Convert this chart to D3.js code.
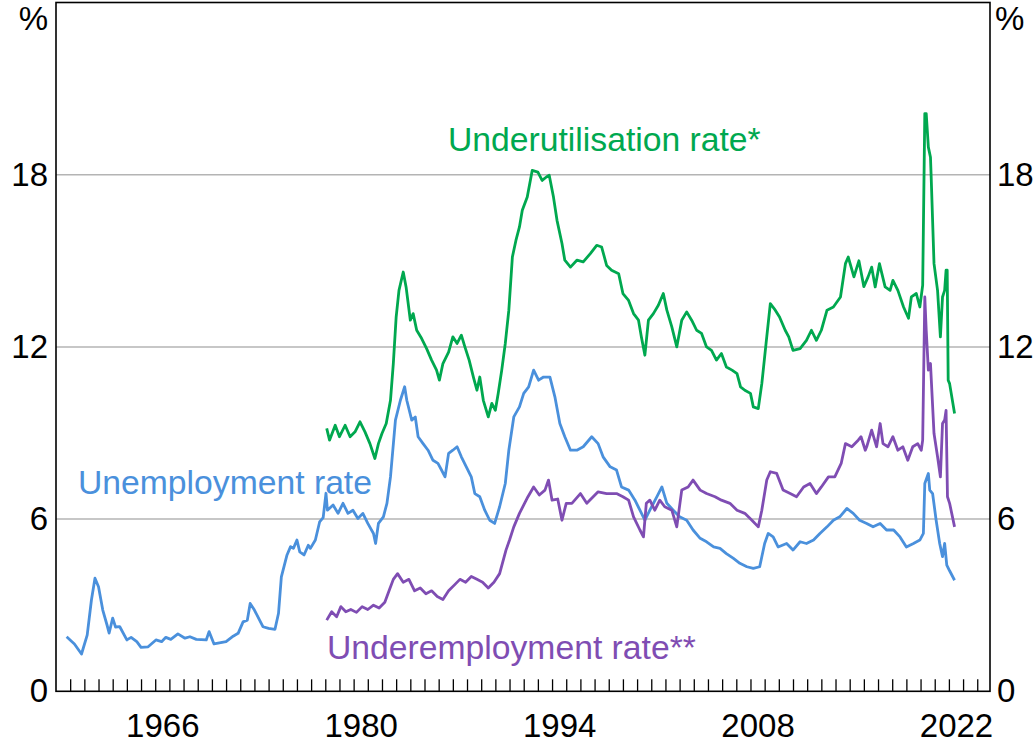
<!DOCTYPE html>
<html lang="en">
<head>
<meta charset="utf-8">
<title>Labour market spare capacity</title>
<style>
body { margin: 0; background: #fff; }
svg { display: block; }
.axis text, .lbl { font-family: "Liberation Sans", Arial, sans-serif; font-size: 33px; fill: #000; }
.lbl.series-lbl { font-size: 33.7px; }
.axis path, .axis line { stroke: none; }
.tick-year line { stroke: #000; stroke-width: 1.3; }
.grid line { stroke: #b4b4b4; stroke-width: 1.5; }
.series { fill: none; stroke-width: 2.8; stroke-linejoin: round; }
</style>
</head>
<body>
<svg width="1036" height="743"></svg>

<script src="https://cdn.jsdelivr.net/npm/d3@7"></script>
<script>

// unemployment rate, %, (decimal years)
const unempYears = [
  1959.75, 1960.3, 1960.8, 1961.2, 1961.5, 1961.75, 1962.0, 1962.3, 1962.6, 1962.75,
  1963.0, 1963.2, 1963.5, 1964.0, 1964.3, 1964.7, 1965.0, 1965.5, 1966.05, 1966.45,
  1966.75, 1967.1, 1967.6, 1968.1, 1968.45, 1968.9, 1969.6, 1969.8, 1970.15, 1971.0,
  1971.5, 1971.85, 1972.2, 1972.5, 1972.7, 1973.0, 1973.6, 1974.0, 1974.45, 1974.7,
  1974.9, 1975.3, 1975.55, 1975.75, 1976.0, 1976.2, 1976.5, 1976.8, 1976.95, 1977.3,
  1977.6, 1977.85, 1978.05, 1978.15, 1978.55, 1978.9, 1979.25, 1979.6, 1979.95, 1980.3,
  1980.65, 1981.0, 1981.4, 1981.55, 1981.75, 1982.1, 1982.35, 1982.6, 1982.95, 1983.3,
  1983.6, 1983.75, 1984.1, 1984.35, 1984.55, 1984.9, 1985.25, 1985.6, 1985.95, 1986.2,
  1986.45, 1986.7, 1987.0, 1987.3, 1987.6, 1987.95, 1988.3, 1988.55, 1988.9, 1989.25,
  1989.6, 1989.95, 1990.3, 1990.7, 1990.95, 1991.3, 1991.7, 1992.0, 1992.35, 1992.7,
  1993.05, 1993.4, 1993.85, 1994.2, 1994.55, 1994.9, 1995.3, 1995.75, 1996.2, 1996.8,
  1997.25, 1997.6, 1998.1, 1998.55, 1998.9, 1999.4, 1999.85, 2000.2, 2000.55, 2000.9,
  2001.4, 2001.75, 2002.1, 2002.55, 2003.0, 2003.5, 2003.95, 2004.45, 2004.9, 2005.4,
  2005.85, 2006.3, 2006.8, 2007.25, 2007.75, 2008.2, 2008.65, 2009.0, 2009.25, 2009.6,
  2009.95, 2010.55, 2011.0, 2011.5, 2011.95, 2012.45, 2012.9, 2013.4, 2013.85, 2014.3,
  2014.8, 2015.25, 2015.7, 2016.2, 2016.65, 2017.15, 2017.6, 2018.1, 2018.55, 2019.0,
  2019.5, 2019.95, 2020.2, 2020.3, 2020.55, 2020.65, 2020.85, 2021.1, 2021.35, 2021.55,
  2021.7, 2021.85, 2022.05, 2022.4
];
const unempRates = [
  1.90, 1.65, 1.30, 1.96, 3.18, 3.94, 3.64, 2.83, 2.31, 2.03,
  2.55, 2.24, 2.25, 1.79, 1.88, 1.73, 1.53, 1.55, 1.79, 1.73,
  1.88, 1.81, 2.00, 1.85, 1.90, 1.81, 1.79, 2.08, 1.65, 1.73,
  1.92, 2.02, 2.42, 2.48, 3.06, 2.83, 2.25, 2.19, 2.16, 2.72,
  3.99, 4.75, 5.04, 4.98, 5.27, 4.86, 4.75, 5.09, 4.98, 5.27,
  5.90, 6.05, 6.90, 6.31, 6.49, 6.20, 6.55, 6.20, 6.31, 6.02,
  6.20, 5.85, 5.50, 5.15, 5.85, 6.08, 6.55, 7.47, 9.45, 10.14,
  10.61, 10.14, 9.45, 9.56, 8.87, 8.63, 8.40, 8.05, 7.94, 7.71,
  7.47, 8.29, 8.40, 8.52, 8.17, 7.82, 7.47, 6.89, 6.78, 6.31,
  5.96, 5.85, 6.43, 7.24, 8.40, 9.56, 9.91, 10.38, 10.61, 11.19,
  10.84, 10.95, 10.95, 10.26, 9.33, 8.87, 8.40, 8.40, 8.52, 8.87,
  8.63, 8.17, 7.82, 7.71, 7.12, 7.01, 6.66, 6.31, 5.96, 6.31,
  6.78, 7.12, 6.55, 6.31, 6.08, 5.96, 5.62, 5.33, 5.21, 5.03,
  4.98, 4.80, 4.63, 4.46, 4.34, 4.28, 4.34, 5.15, 5.50, 5.38,
  5.03, 5.15, 4.92, 5.21, 5.15, 5.27, 5.50, 5.73, 5.96, 6.08,
  6.37, 6.20, 5.96, 5.85, 5.73, 5.85, 5.62, 5.62, 5.38, 5.03,
  5.15, 5.27, 5.50, 7.24, 7.59, 7.01, 6.89, 5.96, 5.15, 4.69,
  5.15, 4.40, 4.20, 3.87
];

// underutilisation rate*, %
const underutilYears = [
  1978.1, 1978.3, 1978.7, 1979.0, 1979.4, 1979.75, 1980.1, 1980.45, 1980.8, 1981.15,
  1981.5, 1981.75, 1982.0, 1982.3, 1982.6, 1982.8, 1983.0, 1983.2, 1983.5, 1983.7,
  1984.0, 1984.2, 1984.45, 1984.8, 1985.15, 1985.5, 1985.85, 1986.05, 1986.3, 1986.7,
  1987.0, 1987.3, 1987.6, 1987.85, 1988.15, 1988.45, 1988.7, 1988.9, 1989.15, 1989.5,
  1989.75, 1990.0, 1990.2, 1990.45, 1990.7, 1990.95, 1991.2, 1991.45, 1991.7, 1991.9,
  1992.25, 1992.6, 1993.0, 1993.3, 1993.6, 1993.8, 1994.1, 1994.35, 1994.7, 1994.9,
  1995.3, 1995.75, 1996.2, 1996.7, 1997.15, 1997.5, 1997.85, 1998.2, 1998.7, 1999.0,
  1999.4, 1999.75, 2000.1, 2000.3, 2000.55, 2000.8, 2001.15, 2001.5, 2001.85, 2002.1,
  2002.45, 2002.8, 2003.15, 2003.5, 2003.85, 2004.2, 2004.55, 2004.9, 2005.25, 2005.6,
  2005.95, 2006.3, 2006.7, 2007.05, 2007.3, 2007.6, 2008.0, 2008.2, 2008.55, 2008.8,
  2009.1, 2009.4, 2009.75, 2010.05, 2010.45, 2010.7, 2011.0, 2011.5, 2011.95, 2012.3,
  2012.65, 2013.0, 2013.4, 2013.85, 2014.35, 2014.7, 2014.9, 2015.3, 2015.65, 2016.0,
  2016.3, 2016.55, 2016.8, 2017.1, 2017.5, 2017.85, 2018.05, 2018.4, 2018.8, 2019.15,
  2019.35, 2019.7, 2019.95, 2020.15, 2020.3, 2020.4, 2020.55, 2020.7, 2020.75, 2020.95,
  2021.2, 2021.4, 2021.55, 2021.7, 2021.8, 2021.88, 2021.95, 2022.05, 2022.4
];
const underutilRates = [
  9.16, 8.75, 9.27, 8.87, 9.27, 8.87, 9.04, 9.39, 9.04, 8.63,
  8.11, 8.63, 8.98, 9.33, 10.14, 11.42, 13.04, 13.97, 14.61, 14.09,
  12.93, 13.16, 12.58, 12.29, 11.94, 11.54, 11.19, 10.84, 11.42, 11.82,
  12.35, 12.12, 12.41, 12.00, 11.54, 10.95, 10.49, 10.95, 10.14, 9.56,
  10.03, 9.79, 10.38, 11.19, 12.12, 13.28, 15.13, 15.71, 16.18, 16.76,
  17.22, 18.15, 18.09, 17.80, 17.92, 17.98, 17.22, 16.41, 15.60, 15.02,
  14.78, 15.02, 14.96, 15.25, 15.54, 15.48, 14.84, 14.67, 14.55, 13.86,
  13.62, 13.16, 12.93, 12.35, 11.71, 12.93, 13.16, 13.45, 13.86, 13.28,
  12.70, 12.00, 12.93, 13.22, 12.93, 12.58, 12.47, 12.00, 11.88, 11.54,
  11.77, 11.30, 11.19, 11.07, 10.61, 10.49, 10.38, 9.91, 9.85, 10.72,
  12.12, 13.51, 13.28, 13.04, 12.58, 12.35, 11.88, 11.94, 12.23, 12.58,
  12.23, 12.58, 13.28, 13.39, 13.74, 14.90, 15.13, 14.44, 15.00, 14.10,
  14.44, 14.78, 14.09, 14.90, 14.09, 13.97, 14.32, 13.97, 13.39, 13.00,
  13.74, 13.86, 13.39, 14.15, 20.13, 20.13, 18.96, 18.61, 17.92, 14.90,
  13.97, 12.35, 13.74, 13.97, 14.67, 14.67, 10.84, 10.72, 9.68
];

// underemployment rate**, %
const underempYears = [
  1978.1, 1978.45, 1978.8, 1979.1, 1979.45, 1979.8, 1980.2, 1980.6, 1981.0, 1981.4,
  1981.8, 1982.2, 1982.5, 1982.8, 1983.1, 1983.5, 1983.9, 1984.3, 1984.7, 1985.1,
  1985.5, 1985.9, 1986.3, 1986.7, 1987.1, 1987.5, 1987.9, 1988.3, 1988.7, 1989.1,
  1989.5, 1989.9, 1990.3, 1990.75, 1991.0, 1991.3, 1991.7, 1992.3, 1992.7, 1993.1,
  1993.5, 1993.75, 1994.0, 1994.4, 1994.7, 1995.0, 1995.4, 1996.0, 1996.45, 1997.25,
  1997.85, 1998.55, 1999.0, 1999.4, 1999.75, 2000.2, 2000.45, 2000.65, 2000.9, 2001.25,
  2001.6, 2001.95, 2002.45, 2002.8, 2003.15, 2003.6, 2003.95, 2004.45, 2004.9, 2005.5,
  2005.95, 2006.55, 2007.05, 2007.6, 2008.1, 2008.55, 2008.8, 2009.15, 2009.4, 2009.85,
  2010.3, 2010.8, 2011.25, 2011.75, 2012.2, 2012.65, 2013.0, 2013.5, 2013.95, 2014.4,
  2014.7, 2015.15, 2015.6, 2015.8, 2016.1, 2016.2, 2016.55, 2016.9, 2017.15, 2017.35,
  2017.7, 2018.05, 2018.4, 2018.75, 2019.1, 2019.45, 2019.8, 2020.05, 2020.15, 2020.3,
  2020.4, 2020.55, 2020.7, 2020.95, 2021.2, 2021.4, 2021.55, 2021.7, 2021.8, 2021.9,
  2022.05, 2022.4
];
const underempRates = [
  2.48, 2.77, 2.60, 2.95, 2.77, 2.85, 2.75, 2.95, 2.85, 3.00,
  2.90, 3.10, 3.50, 3.90, 4.10, 3.80, 3.90, 3.50, 3.60, 3.40,
  3.50, 3.30, 3.20, 3.50, 3.70, 3.90, 3.80, 4.00, 3.90, 3.80,
  3.60, 3.80, 4.10, 4.92, 5.27, 5.73, 6.20, 6.78, 7.12, 6.84,
  7.01, 7.36, 6.66, 6.70, 5.96, 6.55, 6.55, 6.89, 6.55, 6.95,
  6.89, 6.89, 6.78, 6.66, 6.08, 5.62, 5.38, 6.55, 6.66, 6.31,
  6.66, 6.43, 6.31, 5.73, 7.01, 7.12, 7.36, 7.01, 6.89, 6.78,
  6.66, 6.55, 6.31, 6.20, 5.96, 5.73, 6.31, 7.36, 7.65, 7.59,
  7.01, 6.89, 6.78, 7.12, 7.24, 6.89, 7.12, 7.47, 7.47, 7.94,
  8.63, 8.52, 8.75, 8.87, 8.40, 8.52, 9.10, 8.52, 9.33, 8.63,
  8.52, 8.87, 8.40, 8.52, 8.05, 8.52, 8.63, 8.40, 8.75, 13.74,
  12.58, 11.19, 11.42, 8.98, 8.17, 7.47, 9.33, 9.45, 9.79, 6.78,
  6.55, 5.73
];

const yTicks = [0, 6, 12, 18];
const yearLabels = [1966, 1980, 1994, 2008, 2022];
const yearTicks = d3.range(1960, 2025);

const seriesNames = ['Unemployment rate', 'Underutilisation rate*', 'Underemployment rate**'];
const seriesColours = ['#4a90dc', '#00a84f', '#7f4db3'];

var svg = d3.select('svg'),
    plotLeft = 56, plotRight = 990, plotTop = 2.5, plotBottom = 691.3;

let x = d3.scaleLinear().domain([1959, 2024.9]).range([plotLeft, plotRight]);
let y = d3.scaleLinear().domain([0, 24]).range([plotBottom, plotTop]);

// horizontal grid
svg.append('g')
    .attr('class', 'grid')
  .selectAll('line')
  .data(yTicks.filter(d => d > 0))
  .enter().append('line')
    .attr('x1', plotLeft)
    .attr('x2', plotRight)
    .attr('y1', d => y(d))
    .attr('y2', d => y(d));

// year ticks point inwards
svg.append('g')
    .attr('class', 'tick-year')
    .attr('transform', 'translate(0,' + plotBottom + ')')
    .call(d3.axisBottom(x).tickValues(yearTicks).tickSize(-12).tickFormat(''))
    .select('.domain').remove();

// year labels sit in the middle of the year
svg.append('g')
    .attr('class', 'axis')
    .attr('transform', 'translate(0,' + plotBottom + ')')
    .call(d3.axisBottom(x)
      .tickValues(yearLabels.map(d => d + 0.5))
      .tickSize(0)
      .tickPadding(22)
      .tickFormat(d => String(Math.floor(d))));

svg.append('g')
    .attr('class', 'axis')
    .attr('transform', 'translate(' + plotLeft + ',0)')
    .call(d3.axisLeft(y).tickValues(yTicks).tickSize(0).tickPadding(8));

svg.append('g')
    .attr('class', 'axis')
    .attr('transform', 'translate(' + plotRight + ',0)')
    .call(d3.axisRight(y).tickValues(yTicks).tickSize(0).tickPadding(7));

svg.append('text').attr('class', 'lbl')
    .attr('x', plotLeft - 8).attr('y', 30).attr('text-anchor', 'end').text('%');
svg.append('text').attr('class', 'lbl')
    .attr('x', plotRight + 5).attr('y', 30).text('%');

let line = d3.line()
    .x(d => x(d[0]))
    .y(d => y(d[1]));

let zip = (a, b) => a.map((d, i) => [d, b[i]]);
let series = [
  zip(unempYears, unempRates),
  zip(underutilYears, underutilRates),
  zip(underempYears, underempRates)
];

svg.append('g')
  .selectAll('path')
  .data(series)
  .enter().append('path')
    .attr('class', 'series')
    .attr('stroke', (d, i) => seriesColours[i])
    .attr('d', line);

// frame
svg.append('rect')
    .attr('x', plotLeft)
    .attr('y', plotTop)
    .attr('width', plotRight - plotLeft)
    .attr('height', plotBottom - plotTop)
    .attr('fill', 'none')
    .attr('stroke', '#000')
    .attr('stroke-width', 1.6);

// series labels
let labelPos = [[78, 494], [448, 151], [327, 659]];
svg.append('g')
  .selectAll('text')
  .data(seriesNames)
  .enter().append('text')
    .attr('class', 'lbl series-lbl')
    .attr('x', (d, i) => labelPos[i][0])
    .attr('y', (d, i) => labelPos[i][1])
    .style('fill', (d, i) => seriesColours[i])
    .text(d => d);

</script>
</body>
</html>
